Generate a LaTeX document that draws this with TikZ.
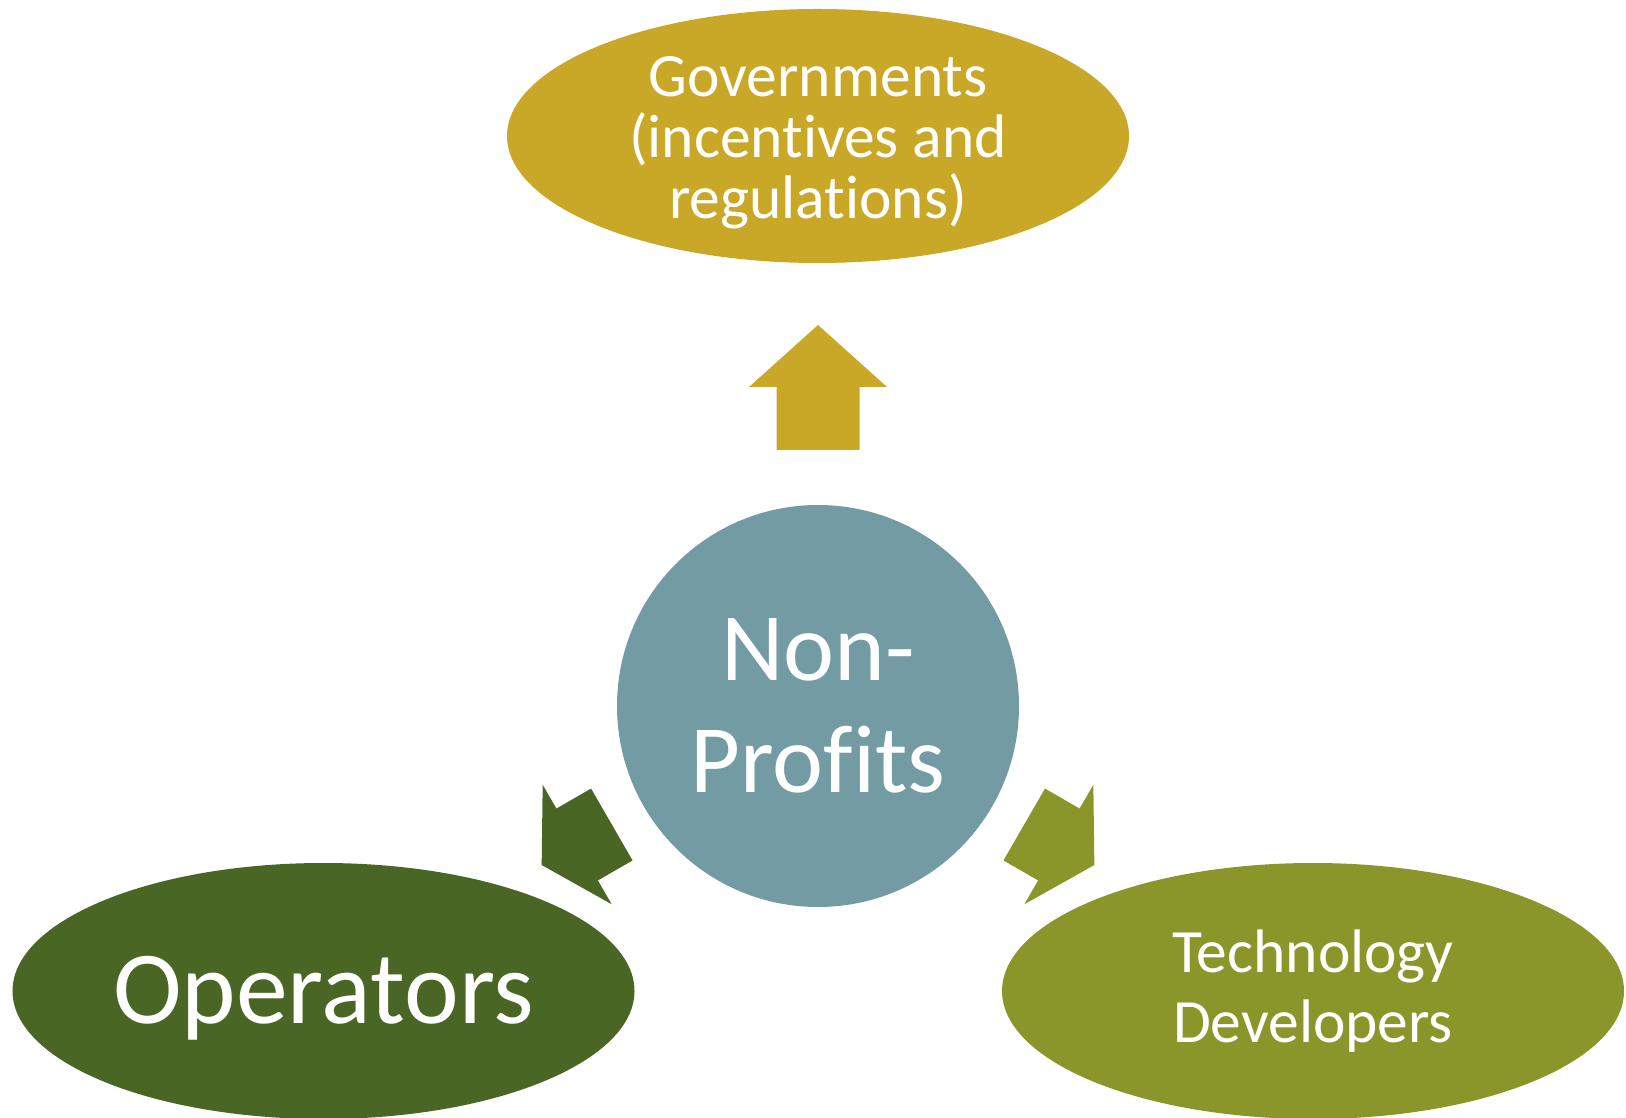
\documentclass[tikz,border=0pt]{standalone}
\usepackage{fontspec}
\setmainfont{Carlito}[Ligatures=NoCommon]
\usetikzlibrary{shapes.geometric}

\definecolor{govgold}{RGB}{201,167,39}
\definecolor{npteal}{RGB}{114,155,163}
\definecolor{opgreen}{RGB}{74,102,37}
\definecolor{techolive}{RGB}{138,150,42}

\tikzset{
	party/.style={ellipse,inner sep=0pt,minimum width=6.22cm,minimum height=2.56cm},
	hub/.style={circle,inner sep=0pt,minimum size=4.02cm,text=white,align=center},
	caption/.style={text=white,align=center,inner sep=0pt},
	% block arrow along +x, tail at the origin: shaft length / total length
	pics/blockarrow/.style args={#1/#2}{code={
		\fill (0,-0.415)--(#1,-0.415)--(#1,-0.69)--(#2,0)--(#1,0.69)--(#1,0.415)--(0,0.415)--cycle;
	}}
}

\begin{document}
\begin{tikzpicture}
	\useasboundingbox (0,0) rectangle (16.26,11.17);
	\node[hub,fill=npteal,font=\fontsize{27.5}{31.9}\selectfont] (np) at (8.18,4.11) {Non-\\Profits};
	\node[party,fill=govgold,minimum height=2.54cm] (gov) at (8.18,9.81) {};
	\node[party,fill=opgreen] (op) at (3.235,1.26) {};
	\node[party,fill=techolive] (tech) at (13.13,1.26) {};
	\node[caption,font=\fontsize{17.5}{17.4}\selectfont] (govtext) at ([yshift=-0.07cm]gov.center) {Governments\\(incentives and\\regulations)};
	\node[caption,font=\fontsize{29.5}{34}\selectfont] (optext) at ([yshift=-0.07cm]op.center) {Operators};
	\node[caption,font=\fontsize{17.5}{19.8}\selectfont] (techtext) at (tech.center) {Technology\\Developers};
	\pic[color=govgold,rotate=90] at (8.18,6.67) {blockarrow=0.63/1.25};
	\pic[color=opgreen,rotate=210] at (6.118,2.925) {blockarrow=0.40/0.81};
	\pic[color=techolive,rotate=-30] at (10.242,2.925) {blockarrow=0.40/0.81};
\end{tikzpicture}
\end{document}
